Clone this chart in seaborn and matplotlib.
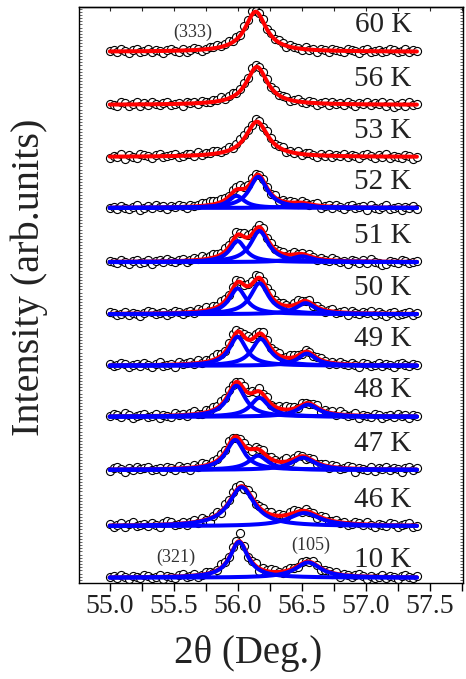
import numpy as np
import matplotlib
matplotlib.use("Agg")
import matplotlib.pyplot as plt
from matplotlib.ticker import MultipleLocator, NullFormatter
import seaborn as sns

# ---------------- data ----------------
temps = ['10 K', '46 K', '47 K', '48 K', '49 K', '50 K', '51 K', '52 K', '53 K', '56 K', '60 K']
offsets = [0.10, 1.08, 2.15, 3.16, 4.13, 5.11, 6.10, 7.13, 8.10, 9.09, 10.10]

# Lorentzian components (centre, height, FWHM) per temperature
peak_pos = [
    [56.01, 56.55],
    [56.03, 56.52],
    [55.98, 56.16, 56.51],
    [55.99, 56.17, 56.55],
    [56.00, 56.18, 56.54],
    [56.00, 56.17, 56.53],
    [56.00, 56.17, 56.50],
    [55.99, 56.16, 56.50],
    [56.15],
    [56.15],
    [56.14],
]
peak_h = [
    [0.68, 0.29],
    [0.74, 0.25],
    [0.57, 0.27, 0.23],
    [0.59, 0.36, 0.23],
    [0.55, 0.51, 0.23],
    [0.49, 0.59, 0.21],
    [0.40, 0.59, 0.11],
    [0.23, 0.59, 0.06],
    [0.67],
    [0.72],
    [0.76],
]
peak_w = [
    [0.17, 0.24],
    [0.24, 0.30],
    [0.17, 0.18, 0.22],
    [0.17, 0.17, 0.20],
    [0.16, 0.17, 0.17],
    [0.16, 0.17, 0.18],
    [0.15, 0.17, 0.20],
    [0.15, 0.17, 0.20],
    [0.21],
    [0.20],
    [0.20],
]
show_components = [True, True, True, True, True, True, True, True, False, False, False]

# measured-point deviations from the fit (units of 0.02)
res_10 = [0, 1, -1, 2, 0, -2, 1, 0, -1, 2,
          1, -1, 0, 2, -2, 1, 0, -1, 1, 2,
          -1, 0, 1, -2, 0, 2, 1, -1, 0, 3,
          2, 1, 3, 2, 8, 2, -1, 1, 3, -2,
          2, 1, 3, 2, 0, -1, 1, 2, 0, -1,
          2, 1, 0, 2, 1, -2, 0, 1, -1, 2,
          -2, 1, 0, -1, 1, 2, 0, -2, 1, -1,
          0, 2, -1, 1, 0, -2, 1, 2, 0, -1,
          1]
res_46 = [1, -1, 0, 2, -2, 1, 3, -1, 0, 1,
          -1, 2, 0, -2, 1, 3, 2, -1, 0, 1,
          -2, 1, 2, -1, 3, 0, -3, 1, 2, -1,
          3, 2, 4, 3, 1, -2, 2, 3, -1, 2,
          3, 1, 2, -1, 2, 1, -2, 2, 3, 1,
          -1, 2, 0, 1, -2, 1, 2, -1, 0, 2,
          -1, 1, -2, 0, 2, 1, -1, 2, 0, -2,
          1, 0, -1, 2, 1, -2, 0, 1, 2, -1,
          0]
res_47 = [-1, 1, 2, 0, -2, 1, -1, 2, 0, 1,
          2, -1, 0, 1, -2, 2, 1, -1, 2, 0,
          1, -2, 2, 0, 3, 1, -1, 2, 1, 3,
          2, 4, 1, -1, 2, 3, 1, -2, 2, 1,
          3, -1, 2, 1, 0, 2, 3, -1, 1, 2,
          0, -2, 1, 2, -1, 0, 1, -2, 2, 1,
          -1, 0, 2, 1, -3, 1, 0, -1, 2, -2,
          1, 0, 2, -1, 1, 0, -2, 1, 2, 0,
          1]
res_48 = [0, 2, 1, -1, 3, 1, -2, 0, 1, 2,
          -1, 0, 2, -2, 1, 0, -1, 2, 0, 1,
          -1, 1, 3, 0, -1, 2, 1, 3, 2, 4,
          2, 3, 1, 0, 2, 3, 1, 2, 0, 3,
          1, 2, -1, 0, 2, 1, 3, 2, 1, -1,
          2, 0, -1, 1, 2, -2, 1, 0, 2, -1,
          3, 1, -1, 0, 2, -2, 1, 0, -1, 2,
          1, -2, 0, 1, -1, 2, 0, 1, -2, 1,
          0]
res_49 = [1, -1, 0, 2, 1, -2, 0, 1, -1, 2,
          0, -2, 1, 3, -1, 0, 1, -2, 2, 0,
          1, 2, -1, 3, 0, 2, 1, 3, 4, 2,
          1, 3, 5, 2, 0, 2, 3, 1, 2, 1,
          3, 2, 0, 1, 2, -1, 1, 3, 2, 1,
          -1, 2, 0, -1, 1, 2, 0, -2, 1, -1,
          2, 0, -1, 1, 0, -2, 2, 1, -1, 0,
          2, -1, 1, 0, -2, 1, 2, 0, -1, 1,
          0]
res_50 = [2, 1, -1, 0, 2, -1, 1, 0, -2, 1,
          2, 1, -1, 0, 1, -2, 0, 2, 1, -1,
          0, 1, -1, 2, 1, 3, 0, 2, 1, 3,
          2, 1, 2, 3, 1, 0, 2, 3, 4, 2,
          1, 2, 3, 1, 0, 2, 1, -1, 2, 3,
          1, 0, 2, -1, 1, 0, -2, 1, 2, -1,
          0, 1, -2, 2, 0, -1, 1, 0, 2, -1,
          1, 0, -2, 1, 2, -1, 0, 1, 2, -1,
          1]
res_51 = [1, 0, -1, 2, 0, -2, 1, 2, -1, 0,
          1, -2, 0, 1, -1, 2, 0, -1, 1, 2,
          -1, 0, 2, 1, 3, 1, 2, 3, 2, 1,
          3, 2, 1, 3, 2, 4, 2, 1, 0, 2,
          3, 1, 2, 0, 1, 2, -1, 1, 2, 0,
          1, -1, 2, 0, -2, 1, 0, -1, 2, 1,
          -1, 0, -3, 1, 0, -2, 1, -1, 2, 0,
          -1, -3, -2, 1, 0, -1, 2, 1, -1, 0,
          1]
res_52 = [0, 1, -1, 2, 0, -1, 1, 2, -2, 0,
          1, -1, 2, 0, 1, -2, 1, 0, 2, 1,
          -1, 2, 0, 1, 3, 2, 4, 3, 2, 3,
          2, 1, 3, 2, 4, 2, 1, 3, 2, 0,
          2, 1, 0, 2, -1, 1, 0, 2, 1, -1,
          2, 0, -1, 1, 2, -2, 0, 1, -1, 2,
          0, -2, 1, 2, -1, 0, 1, -2, 2, 0,
          -1, 1, 2, -1, 0, 1, -2, 1, 0, 2,
          -1]
res_53 = [-1, 1, 0, 2, -2, 1, 0, -1, 2, 1,
          0, -2, 1, 2, -1, 0, 1, 2, -1, 0,
          2, 1, -1, 3, 0, 2, 1, 3, 2, 1,
          2, 3, 1, 2, 4, 3, 2, 1, 3, 2,
          1, 3, 2, 0, 1, 2, -1, 1, 0, 2,
          -1, 1, 2, 0, -2, 1, 0, 2, -1, 1,
          0, 2, -1, 1, 0, -2, 1, 2, 0, -1,
          1, 0, 2, -1, 1, 0, -1, 2, 1, -2,
          0]
res_56 = [1, 0, -1, 2, 1, -1, 0, 2, -2, 1,
          -1, 2, 0, -1, 1, 2, -1, 0, 1, -2,
          2, 0, 1, -1, 2, 1, 0, 2, 1, 3,
          1, 2, 3, 1, 2, 3, 1, 4, 2, 1,
          2, 3, 1, 2, 0, 1, 2, -1, 1, 2,
          0, -1, 2, 1, -2, 0, 1, -1, 2, 0,
          1, -1, 2, 0, -2, 1, 0, 2, -1, 1,
          0, 2, -1, 1, -2, 0, 1, -1, 2, 0,
          1]
res_60 = [0, 1, -1, 2, 0, -2, 1, 2, -1, 0,
          2, -1, 1, 0, -2, 1, 2, 0, -1, 1,
          -2, 0, 2, 1, -1, 0, 2, 1, 3, 1,
          2, 3, 1, 2, 0, 3, 2, 4, 1, 2,
          3, 1, 2, 0, 2, 1, -1, 2, 1, 0,
          -1, 2, 0, 1, -2, 1, 0, -1, 2, 1,
          0, -1, 2, 1, 0, -2, 1, 2, -1, 0,
          1, -1, 0, 2, 1, -1, 0, 2, -1, 1,
          0]
residuals = [res_10, res_46, res_47, res_48, res_49, res_50, res_51, res_52, res_53, res_56, res_60]

x_start, x_end = 55.0, 57.4
x_ticks = [55.0, 55.5, 56.0, 56.5, 57.0, 57.5]
x_ticklabels = ['55.0', '55.5', '56.0', '56.5', '57.0', '57.5']
hkl_labels = ['(333)', '(321)', '(105)']
hkl_xy = [(55.65, 10.47), (55.52, 0.49), (56.57, 0.72)]
label_dy = [0.33, 0.5, 0.5, 0.5, 0.5, 0.5, 0.5, 0.5, 0.5, 0.5, 0.5]

# ---------------- style ----------------
sns.set_theme(style='ticks')
plt.rcParams['font.family'] = ['Liberation Serif', 'DejaVu Serif']
plt.rcParams['mathtext.fontset'] = 'custom'

W, H = 466, 679
fig = plt.figure(figsize=(W / 100, H / 100), dpi=100)
ax = fig.add_axes([79 / W, 1 - 583 / H, (463 - 79) / W, (583 - 7) / H])


def lorentz(x, c, h, w):
    return h / (1.0 + ((x - c) / (w / 2.0)) ** 2)


x_line = np.linspace(x_start, x_end, 500)
for i, t in enumerate(temps):
    off = offsets[i]
    comps = [lorentz(x_line, c, h, w) for c, h, w in zip(peak_pos[i], peak_h[i], peak_w[i])]
    total = np.sum(comps, axis=0)
    res = np.array(residuals[i]) * 0.02
    x_pts = np.linspace(x_start, x_end, len(res))
    tot_pts = np.sum([lorentz(x_pts, c, h, w) for c, h, w in zip(peak_pos[i], peak_h[i], peak_w[i])], axis=0)
    sns.scatterplot(x=x_pts, y=tot_pts + res + off, ax=ax, marker='o', s=34,
                    color='white', edgecolor='black', linewidth=0.8, zorder=2, legend=False)
    sns.lineplot(x=x_line, y=total + off, ax=ax, color='#ff0000', lw=2.9,
                 sort=False, estimator=None, errorbar=None, zorder=3)
    if show_components[i]:
        for comp in comps:
            sns.lineplot(x=x_line, y=comp + off, ax=ax, color='#0000ff', lw=2.9,
                         sort=False, estimator=None, errorbar=None, zorder=4)
    ax.text(57.36, off + label_dy[i], t, ha='right', va='center', fontsize=21,
            color='#222222', zorder=6)

for lab, (hx, hy) in zip(hkl_labels, hkl_xy):
    ax.text(hx, hy, lab, ha='center', va='center', fontsize=13, color='#333333', zorder=6)

ax.set_xlim(54.76, 57.76)
ax.set_ylim(0, 10.95)

ax.set_xticks(x_ticks)
ax.set_xticklabels(x_ticklabels)
ax.xaxis.set_minor_locator(MultipleLocator(0.25))
ax.tick_params(axis='x', which='both', direction='out', length=6, width=1.0,
               labelsize=20, pad=2, colors='black', labelcolor='#222222', top=False)
sec = ax.secondary_xaxis('top')
sec.set_xticks(x_ticks)
sec.xaxis.set_minor_locator(MultipleLocator(0.25))
sec.tick_params(axis='x', which='both', direction='in', length=3, width=0.8, labeltop=False)
sec.spines['top'].set_linewidth(1.0)

ax.yaxis.set_major_locator(MultipleLocator(0.06))
ax.yaxis.set_major_formatter(NullFormatter())
ax.tick_params(axis='y', which='both', direction='in', length=2.0, width=0.5,
               left=True, right=True, labelleft=False)

for sp in ax.spines.values():
    sp.set_visible(True)
    sp.set_linewidth(1.0)
    sp.set_color('black')

ax.set_xlabel('')
ax.set_ylabel('')
ax.text((29 - 79) / 384, (583 - 277) / 576, 'Intensity (arb.units)', transform=ax.transAxes,
        rotation=90, ha='center', va='center', fontsize=29, color='#222222')
ax.text((248 - 79) / 384, (583 - 654) / 576, '2\u03b8 (Deg.)', transform=ax.transAxes,
        ha='center', va='center', fontsize=28, color='#222222')

fig.savefig('out.png', dpi=100)
